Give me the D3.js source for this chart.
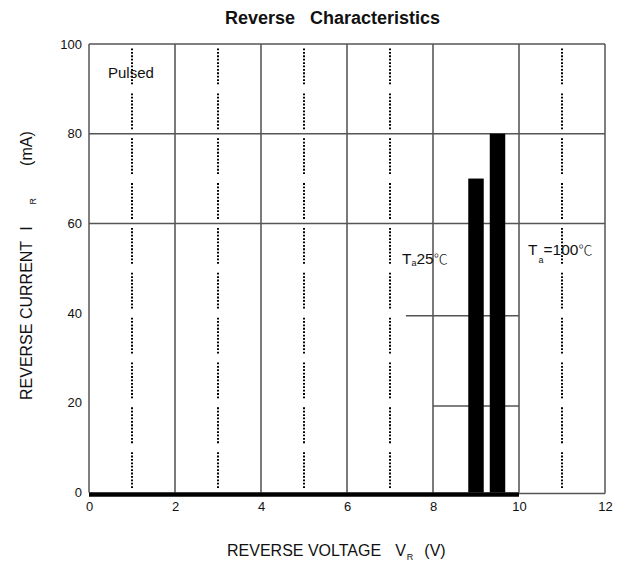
<!DOCTYPE html>
<html>
<head>
<meta charset="utf-8">
<script src="https://cdn.jsdelivr.net/npm/d3@7"></script>
<style>
  html, body { margin: 0; padding: 0; background: #fff; }
  svg { display: block; font-family: "Liberation Sans", Arial, sans-serif; }
  .deg { font-family: "Noto Sans CJK JP", "Noto Sans CJK SC", "DejaVu Sans", sans-serif; font-weight: 300; }
</style>
</head>
<body>
<svg id="chart" width="627" height="564"></svg>
<script>
// Reverse current vs. reverse voltage (pulsed measurement)
const xTickValues = [0, 2, 4, 6, 8, 10, 12];
const yTickValues = [0, 20, 40, 60, 80, 100];

// bar marks: reverse voltage (V) and reverse current (mA)
const barVoltage = [9.0, 9.5];
const barCurrent = [70, 80];
const barWidthV = 0.36;

// grid layout
const solidGridX = [2, 4, 6, 8, 10];
const dottedGridX = [1, 3, 5, 7, 11];
const fullGridY = [60, 80];

// short reference levels beside the bars
const refLevel = [39.4, 19.3];
const refFrom = [7.37, 8.0];
const refTo = [10, 10];

// heavy baseline segment along 0 mA
const baseFrom = 0, baseTo = 10;

const svg = d3.select("#chart");
const x = d3.scaleLinear().domain([0, 12]).range([89, 605]);
const y = d3.scaleLinear().domain([0, 100]).range([492.5, 44]);

const grid = svg.append("g");

// dotted half-step verticals, broken into segments per 10 mA
const decades = d3.range(0, 100, 10);
dottedGridX.forEach(v => {
  grid.selectAll(null)
    .data(decades)
    .enter().append("line")
    .attr("x1", x(v)).attr("x2", x(v))
    .attr("y1", d => y(d + 1)).attr("y2", d => y(d + 9))
    .attr("stroke", "#000")
    .attr("stroke-width", 2)
    .attr("stroke-dasharray", "1.8,1.6");
});

// solid verticals
grid.selectAll(null)
  .data(solidGridX)
  .enter().append("line")
  .attr("x1", d => x(d)).attr("x2", d => x(d))
  .attr("y1", y(100)).attr("y2", y(0))
  .attr("stroke", "#222")
  .attr("stroke-width", 1.2);

// full-width horizontals
grid.selectAll(null)
  .data(fullGridY)
  .enter().append("line")
  .attr("x1", x(0)).attr("x2", x(12))
  .attr("y1", d => y(d)).attr("y2", d => y(d))
  .attr("stroke", "#555")
  .attr("stroke-width", 1.5);

// reference levels
grid.selectAll(null)
  .data(refLevel)
  .enter().append("line")
  .attr("x1", (d, i) => x(refFrom[i])).attr("x2", (d, i) => x(refTo[i]))
  .attr("y1", d => y(d)).attr("y2", d => y(d))
  .attr("stroke", "#555")
  .attr("stroke-width", 1.5);

// frame: left, top, right, and thin bottom tail
const frame = svg.append("g").attr("stroke", "#555").attr("stroke-width", 1.5).attr("fill", "none");
frame.append("line").attr("x1", x(0)).attr("x2", x(0)).attr("y1", y(100)).attr("y2", y(0));
frame.append("line").attr("x1", x(0)).attr("x2", x(12)).attr("y1", y(100)).attr("y2", y(100));
frame.append("line").attr("x1", x(12)).attr("x2", x(12)).attr("y1", y(100)).attr("y2", y(0) + 1);
frame.append("line").attr("x1", x(baseTo)).attr("x2", x(12)).attr("y1", y(0) + 1).attr("y2", y(0) + 1);

// bars
svg.append("g").selectAll("rect")
  .data(barVoltage)
  .enter().append("rect")
  .attr("x", d => x(d - barWidthV / 2))
  .attr("width", x(barWidthV) - x(0))
  .attr("y", (d, i) => y(barCurrent[i]))
  .attr("height", (d, i) => y(0) - y(barCurrent[i]))
  .attr("fill", "#000");

// heavy baseline
svg.append("line")
  .attr("x1", x(baseFrom)).attr("x2", x(baseTo))
  .attr("y1", y(0) + 2).attr("y2", y(0) + 2)
  .attr("stroke", "#000")
  .attr("stroke-width", 4.5);

// axes (labels only)
const yAxis = svg.append("g")
  .attr("transform", `translate(${x(0)},0)`)
  .call(d3.axisLeft(y).tickValues(yTickValues).tickSize(0).tickPadding(7));
const xAxis = svg.append("g")
  .attr("transform", `translate(0,${y(0)})`)
  .call(d3.axisBottom(x).tickValues(xTickValues).tickSize(0).tickPadding(9));
[yAxis, xAxis].forEach(g => {
  g.select(".domain").remove();
  g.selectAll("text")
    .attr("font-family", "'Liberation Sans', Arial, sans-serif")
    .attr("font-size", 13)
    .attr("fill", "#111");
});

// title
svg.append("text")
  .attr("x", 225).attr("y", 24)
  .attr("font-size", 18).attr("font-weight", "bold")
  .attr("fill", "#111")
  .attr("xml:space", "preserve")
  .text("Reverse   Characteristics");

// x-axis label
const xl = svg.append("text")
  .attr("x", 227).attr("y", 556)
  .attr("font-size", 16).attr("fill", "#111");
xl.append("tspan").text("REVERSE VOLTAGE");
xl.append("tspan").attr("dx", 14).text("V");
xl.append("tspan").attr("font-size", 9).attr("dy", 4).attr("dx", 1).text("R");
xl.append("tspan").attr("dy", -4).attr("dx", 11).text("(V)");

// y-axis label
const yl = svg.append("text")
  .attr("transform", "translate(32,400) rotate(-90)")
  .attr("font-size", 16).attr("fill", "#111");
yl.append("tspan").text("REVERSE CURRENT");
yl.append("tspan").attr("dx", 10).text("I");
yl.append("tspan").attr("font-size", 9).attr("dy", 4).attr("dx", 22).text("R");
yl.append("tspan").attr("dy", -4).attr("dx", 32).text("(mA)");

// annotations
svg.append("text")
  .attr("x", 108).attr("y", 78)
  .attr("font-size", 15).attr("fill", "#111")
  .text("Pulsed");

const t25 = svg.append("text")
  .attr("x", 402).attr("y", 264)
  .attr("font-size", 15.5).attr("fill", "#111");
t25.append("tspan").text("T");
t25.append("tspan").attr("font-size", 9).attr("dy", 2).text("a");
t25.append("tspan").attr("dy", -2).text("25");
t25.append("tspan").attr("class", "deg").attr("font-size", 14).text("℃");

const t100 = svg.append("text")
  .attr("x", 528).attr("y", 255)
  .attr("font-size", 15.5).attr("fill", "#111");
t100.append("tspan").text("T");
t100.append("tspan").attr("font-size", 9).attr("dy", 8).attr("dx", 1).text("a");
t100.append("tspan").attr("dy", -8).text("=100");
t100.append("tspan").attr("class", "deg").attr("font-size", 14).text("℃");
</script>
</body>
</html>
